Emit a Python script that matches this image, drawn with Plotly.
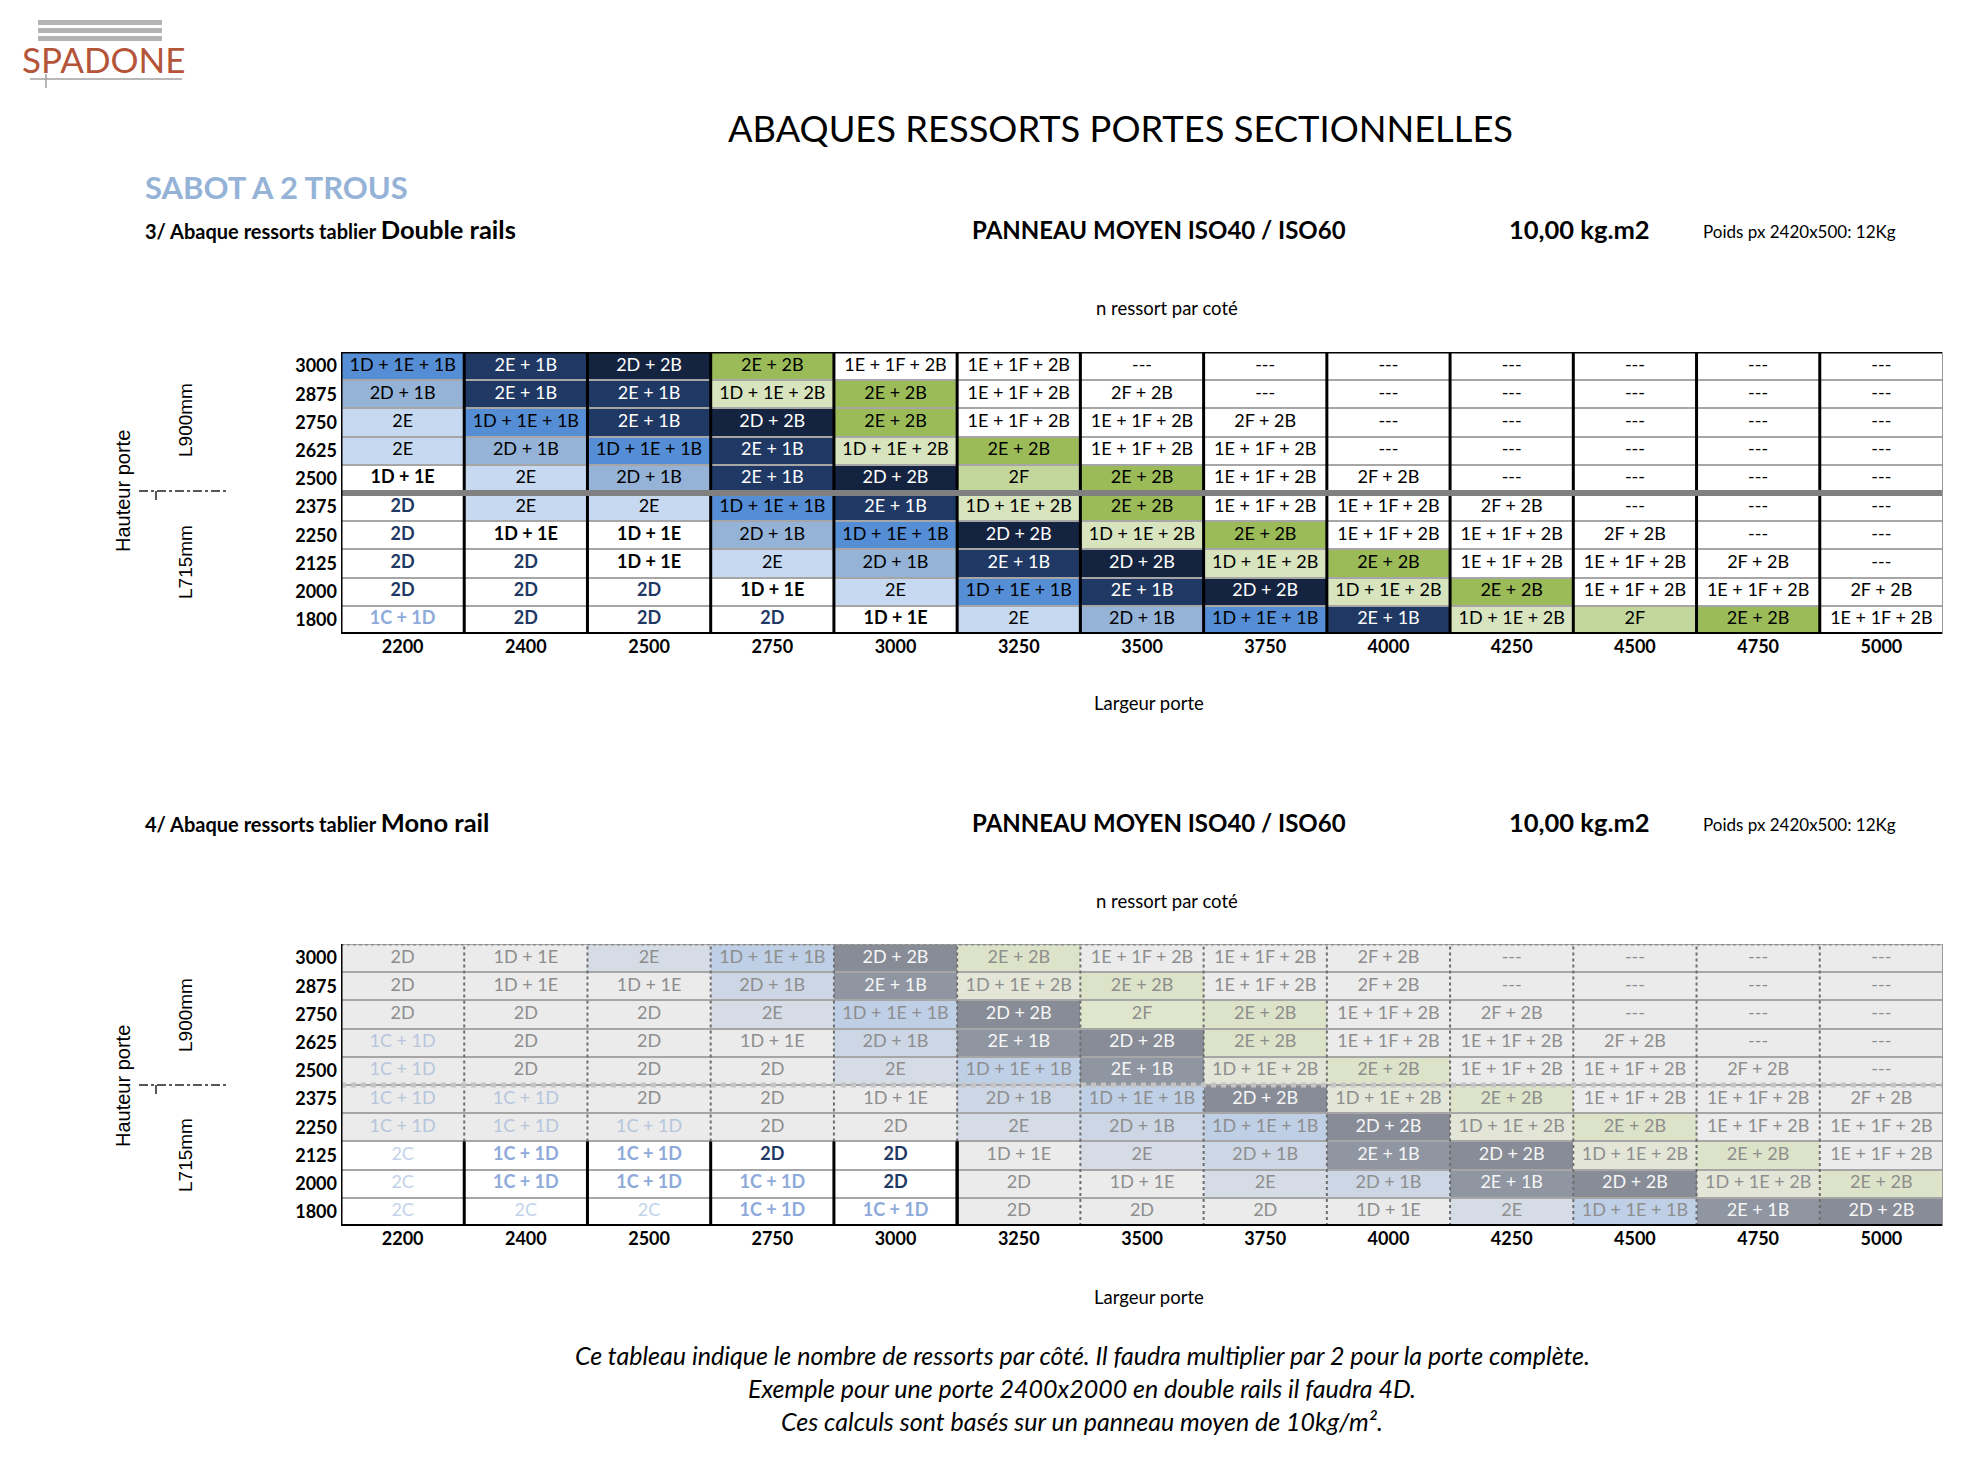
import plotly.graph_objects as go

# Données des abaques (lignes = hauteur porte, colonnes = largeur porte)
largeurs = ["2200", "2400", "2500", "2750", "3000", "3250", "3500",
            "3750", "4000", "4250", "4500", "4750", "5000"]
hauteurs = ["3000", "2875", "2750", "2625", "2500", "2375", "2250", "2125", "2000", "1800"]

double_rails = [
    ["1D + 1E + 1B", "2E + 1B", "2D + 2B", "2E + 2B", "1E + 1F + 2B", "1E + 1F + 2B", "---", "---", "---", "---", "---", "---", "---"],
    ["2D + 1B", "2E + 1B", "2E + 1B", "1D + 1E + 2B", "2E + 2B", "1E + 1F + 2B", "2F + 2B", "---", "---", "---", "---", "---", "---"],
    ["2E", "1D + 1E + 1B", "2E + 1B", "2D + 2B", "2E + 2B", "1E + 1F + 2B", "1E + 1F + 2B", "2F + 2B", "---", "---", "---", "---", "---"],
    ["2E", "2D + 1B", "1D + 1E + 1B", "2E + 1B", "1D + 1E + 2B", "2E + 2B", "1E + 1F + 2B", "1E + 1F + 2B", "---", "---", "---", "---", "---"],
    ["1D + 1E", "2E", "2D + 1B", "2E + 1B", "2D + 2B", "2F", "2E + 2B", "1E + 1F + 2B", "2F + 2B", "---", "---", "---", "---"],
    ["2D", "2E", "2E", "1D + 1E + 1B", "2E + 1B", "1D + 1E + 2B", "2E + 2B", "1E + 1F + 2B", "1E + 1F + 2B", "2F + 2B", "---", "---", "---"],
    ["2D", "1D + 1E", "1D + 1E", "2D + 1B", "1D + 1E + 1B", "2D + 2B", "1D + 1E + 2B", "2E + 2B", "1E + 1F + 2B", "1E + 1F + 2B", "2F + 2B", "---", "---"],
    ["2D", "2D", "1D + 1E", "2E", "2D + 1B", "2E + 1B", "2D + 2B", "1D + 1E + 2B", "2E + 2B", "1E + 1F + 2B", "1E + 1F + 2B", "2F + 2B", "---"],
    ["2D", "2D", "2D", "1D + 1E", "2E", "1D + 1E + 1B", "2E + 1B", "2D + 2B", "1D + 1E + 2B", "2E + 2B", "1E + 1F + 2B", "1E + 1F + 2B", "2F + 2B"],
    ["1C + 1D", "2D", "2D", "2D", "1D + 1E", "2E", "2D + 1B", "1D + 1E + 1B", "2E + 1B", "1D + 1E + 2B", "2F", "2E + 2B", "1E + 1F + 2B"],
]

mono_rail = [
    ["2D", "1D + 1E", "2E", "1D + 1E + 1B", "2D + 2B", "2E + 2B", "1E + 1F + 2B", "1E + 1F + 2B", "2F + 2B", "---", "---", "---", "---"],
    ["2D", "1D + 1E", "1D + 1E", "2D + 1B", "2E + 1B", "1D + 1E + 2B", "2E + 2B", "1E + 1F + 2B", "2F + 2B", "---", "---", "---", "---"],
    ["2D", "2D", "2D", "2E", "1D + 1E + 1B", "2D + 2B", "2F", "2E + 2B", "1E + 1F + 2B", "2F + 2B", "---", "---", "---"],
    ["1C + 1D", "2D", "2D", "1D + 1E", "2D + 1B", "2E + 1B", "2D + 2B", "2E + 2B", "1E + 1F + 2B", "1E + 1F + 2B", "2F + 2B", "---", "---"],
    ["1C + 1D", "2D", "2D", "2D", "2E", "1D + 1E + 1B", "2E + 1B", "1D + 1E + 2B", "2E + 2B", "1E + 1F + 2B", "1E + 1F + 2B", "2F + 2B", "---"],
    ["1C + 1D", "1C + 1D", "2D", "2D", "1D + 1E", "2D + 1B", "1D + 1E + 1B", "2D + 2B", "1D + 1E + 2B", "2E + 2B", "1E + 1F + 2B", "1E + 1F + 2B", "2F + 2B"],
    ["1C + 1D", "1C + 1D", "1C + 1D", "2D", "2D", "2E", "2D + 1B", "1D + 1E + 1B", "2D + 2B", "1D + 1E + 2B", "2E + 2B", "1E + 1F + 2B", "1E + 1F + 2B"],
    ["2C", "1C + 1D", "1C + 1D", "2D", "2D", "1D + 1E", "2E", "2D + 1B", "2E + 1B", "2D + 2B", "1D + 1E + 2B", "2E + 2B", "1E + 1F + 2B"],
    ["2C", "1C + 1D", "1C + 1D", "1C + 1D", "2D", "2D", "1D + 1E", "2E", "2D + 1B", "2E + 1B", "2D + 2B", "1D + 1E + 2B", "2E + 2B"],
    ["2C", "2C", "2C", "1C + 1D", "1C + 1D", "2D", "2D", "2D", "1D + 1E", "2E", "1D + 1E + 1B", "2E + 1B", "2D + 2B"],
]

# zone non grisée du tableau mono rail
mono_actifs_largeurs = ["2200", "2400", "2500", "2750", "3000"]
mono_actifs_hauteurs = ["2125", "2000", "1800"]
coupure = ("2500", "2375")  # séparation L900mm / L715mm

# couleurs des cases selon la combinaison de ressorts
couleurs = {
    "1D + 1E + 1B": "#558ed5", "2D + 1B": "#95b3d7", "2E": "#c6d9f1",
    "2E + 1B": "#1f3864", "2D + 2B": "#14233f", "2E + 2B": "#9bbb59",
    "1D + 1E + 2B": "#d7e4bd", "2F": "#c3d69b",
}
couleurs_grises = {
    "1D + 1E + 1B": "#bfcfe6", "2D + 1B": "#ccd6e5", "2E": "#d6dce5",
    "2E + 1B": "#8f95a1", "2D + 2B": "#878c97", "2E + 2B": "#dde3c8",
    "1D + 1E + 2B": "#e3e6d7", "2F": "#e0e6cc",
}
sombres = ["2E + 1B", "2D + 2B"]

W, H = 1982, 1462
OFF = 8  # marge du body de la page html
FW, FH = W - 2 * OFF, H - 2 * OFF
POLICE = "Lato, 'Open Sans', sans-serif"
ARIAL = "'Liberation Sans', Arial, sans-serif"


def px_x(x):
    return (x - OFF) / FW


def px_y(y):
    return 1 - (y - OFF) / FH


def style_case(label, grise):
    if grise:
        fond = couleurs_grises.get(label, "#ebebeb")
        if label in sombres:
            return fond, "#f6f6f6", "normal"
        if label == "1C + 1D":
            return fond, "#b6c6dc", "normal"
        return fond, "#8e8e8e", "normal"
    fond = couleurs.get(label, "#ffffff")
    if label in sombres:
        return fond, "#ffffff", "normal"
    if label == "2D":
        return fond, "#1f3864", "bold"
    if label == "1C + 1D":
        return fond, "#8eaadb", "bold"
    if label == "2C":
        return fond, "#c2d3ea", "normal"
    if label == "1D + 1E":
        return fond, "#000000", "bold"
    return fond, "#000000", "normal"


palette = []
fig = go.Figure()


def ajoute_tableau(tableau, xa, ya, mono):
    z, xs, ys, textes, tcol, tpoids = [], [], [], [], [], []
    for h, ligne in zip(hauteurs, tableau):
        zl = []
        for l, label in zip(largeurs, ligne):
            grise = mono and not (l in mono_actifs_largeurs and h in mono_actifs_hauteurs)
            fond, ct, pds = style_case(label, grise)
            if fond not in palette:
                palette.append(fond)
            zl.append(fond)
            xs.append(l)
            ys.append(h)
            textes.append(label)
            tcol.append(ct)
            tpoids.append(pds)
        z.append(zl)
    fig.add_trace(go.Heatmap(x=largeurs, y=hauteurs, z=z, xaxis=xa, yaxis=ya,
                             ygap=2, showscale=False, hoverinfo="skip"))
    fig.add_trace(go.Scatter(x=xs, y=ys, mode="text", text=textes, xaxis=xa, yaxis=ya,
                             textfont=dict(family=POLICE, size=18, color=tcol, weight=tpoids),
                             hoverinfo="skip", showlegend=False))


ajoute_tableau(double_rails, "x", "y", False)
ajoute_tableau(mono_rail, "x2", "y2", True)

# conversion des couleurs en indices pour une échelle discrète
n = len(palette)
echelle = [[i / (n - 1), c] for i, c in enumerate(palette)]
for tr in fig.data:
    if tr.type == "heatmap":
        tr.z = [[palette.index(c) for c in ligne] for ligne in tr.z]
        tr.zmin, tr.zmax = 0, n - 1
        tr.colorscale = echelle

ordre_y = hauteurs[::-1]
nx, ny = len(largeurs), len(hauteurs)
axe_x = dict(type="category", categoryorder="array", categoryarray=largeurs,
             range=[-0.5, nx - 0.5], showgrid=False, zeroline=False, showline=False,
             ticks="", tickfont=dict(family=POLICE, size=18, color="black", weight="bold"),
             fixedrange=True)
axe_y = dict(type="category", categoryorder="array", categoryarray=ordre_y,
             range=[-0.5, ny - 0.5], showgrid=False, zeroline=False, showline=False,
             ticks="", ticklabelstandoff=3,
             tickfont=dict(family=POLICE, size=18, color="black", weight="bold"),
             fixedrange=True)

x_dom = [px_x(341), px_x(1943)]
fig.update_layout(
    width=FW, height=FH, margin=dict(l=0, r=0, t=0, b=0),
    paper_bgcolor="white", plot_bgcolor="#a6a6a6", showlegend=False,
    xaxis=dict(axe_x, domain=x_dom, anchor="y"),
    yaxis=dict(axe_y, domain=[px_y(634), px_y(352)], anchor="x"),
    xaxis2=dict(axe_x, domain=x_dom, anchor="y2"),
    yaxis2=dict(axe_y, domain=[px_y(1226), px_y(944)], anchor="x2"),
)

shapes = []
y_coupure = (ordre_y.index(coupure[0]) + ordre_y.index(coupure[1])) / 2
i_act_x = max(largeurs.index(l) for l in mono_actifs_largeurs) + 0.5
i_act_y = max(ordre_y.index(h) for h in mono_actifs_hauteurs) + 0.5


def trait(xr, yr, x0, y0, x1, y1, couleur, w, dash="solid"):
    shapes.append(dict(type="line", xref=xr, yref=yr, x0=x0, y0=y0, x1=x1, y1=y1,
                       line=dict(color=couleur, width=w, dash=dash), layer="above"))


# tableau double rails
for i in range(1, nx):
    trait("x", "y", i - 0.5, -0.5, i - 0.5, ny - 0.5, "black", 3)
trait("x", "y", -0.5, y_coupure, nx - 0.5, y_coupure, "#808080", 6)
trait("x", "y", -0.5, ny - 0.5, nx - 0.5, ny - 0.5, "black", 3)
trait("x", "y", -0.5, -0.5, nx - 0.5, -0.5, "black", 4)
trait("x", "y", -0.5, -0.5, -0.5, ny - 0.5, "black", 3)
trait("x", "y", nx - 0.5, -0.5, nx - 0.5, ny - 0.5, "#9a9a9a", 2)

# tableau mono rail (zone grisée)
for i in range(1, nx):
    trait("x2", "y2", i - 0.5, i_act_y, i - 0.5, ny - 0.5, "#6e6e6e", 2, "dot")
    if i - 0.5 <= i_act_x:
        trait("x2", "y2", i - 0.5, -0.5, i - 0.5, i_act_y, "black", 3)
    else:
        trait("x2", "y2", i - 0.5, -0.5, i - 0.5, i_act_y, "#6e6e6e", 2, "dot")
trait("x2", "y2", i_act_x, -0.5, i_act_x, i_act_y, "black", 3)
trait("x2", "y2", -0.5, y_coupure, nx - 0.5, y_coupure, "#c4c4c4", 5, "dot")
trait("x2", "y2", -0.5, ny - 0.5, nx - 0.5, ny - 0.5, "#8a8a8a", 3, "dot")
trait("x2", "y2", -0.5, -0.5, nx - 0.5, -0.5, "black", 4)
trait("x2", "y2", -0.5, -0.5, -0.5, ny - 0.5, "black", 3)
trait("x2", "y2", nx - 0.5, -0.5, nx - 0.5, ny - 0.5, "#9a9a9a", 2)

# logo
for yy in (20, 28, 36):
    shapes.append(dict(type="rect", xref="paper", yref="paper", x0=px_x(38), x1=px_x(162),
                       y0=px_y(yy + 5), y1=px_y(yy), fillcolor="#b4b4b4", line=dict(width=0)))
shapes.append(dict(type="line", xref="paper", yref="paper", x0=px_x(30), x1=px_x(182),
                   y0=px_y(79), y1=px_y(79), line=dict(color="#a0a0a0", width=1.5)))
shapes.append(dict(type="line", xref="paper", yref="paper", x0=px_x(46), x1=px_x(46),
                   y0=px_y(74), y1=px_y(88), line=dict(color="#a0a0a0", width=1.5)))

# repères L900 / L715
for yy in (491, 1085):
    shapes.append(dict(type="line", xref="paper", yref="paper", x0=px_x(139), x1=px_x(228),
                       y0=px_y(yy), y1=px_y(yy), line=dict(color="#222", width=1.5, dash="dashdot")))
    shapes.append(dict(type="line", xref="paper", yref="paper", x0=px_x(156), x1=px_x(156),
                       y0=px_y(yy), y1=px_y(yy + 9), line=dict(color="#222", width=1.5)))

fig.update_layout(shapes=shapes)

annots = []


def texte(t, x, y, size, xanchor="left", color="black", angle=0, family=POLICE, **kw):
    annots.append(dict(text=t, x=px_x(x), y=px_y(y), xref="paper", yref="paper",
                       xanchor=xanchor, yanchor="middle", showarrow=False, textangle=angle,
                       font=dict(family=family, size=size, color=color, **kw)))


texte("SPADONE", 20, 59, 35, color="#b4553a")
texte("ABAQUES RESSORTS PORTES SECTIONNELLES", 1120, 128, 36.3, xanchor="center")
texte("<b>SABOT A 2 TROUS</b>", 143, 187, 31, color="#95b3d7")

for y_titre, nom, y_sous in ((229, "Double rails", 308), (822, "Mono rail", 901)):
    num = "3/" if nom == "Double rails" else "4/"
    texte(f"<b>{num} Abaque ressorts tablier <span style='font-size:25.5px'>{nom}</span></b>",
          143, y_titre, 20)
    texte("<b>PANNEAU MOYEN ISO40 / ISO60</b>", 970, y_titre, 24)
    texte("<b>10,00 kg.m2</b>", 1507, y_titre, 25.5)
    texte("Poids px 2420x500: 12Kg", 1701, y_titre + 2, 17)
    texte("n ressort par coté", 1167, y_sous, 18.5, xanchor="center")

texte("Largeur porte", 1149, 703, 18.5, xanchor="center")
texte("Largeur porte", 1149, 1297, 18.5, xanchor="center")

for yh, y900, y715 in ((491, 420, 562), (1086, 1015, 1155)):
    texte("Hauteur porte", 123, yh, 20, xanchor="center", angle=-90, family=ARIAL)
    texte("L900mm", 185, y900, 19, xanchor="center", angle=-90, family=ARIAL)
    texte("L715mm", 185, y715, 19, xanchor="center", angle=-90, family=ARIAL)

notes = [
    "Ce tableau indique le nombre de ressorts par côté. Il faudra multiplier par 2 pour la porte complète.",
    "Exemple pour une porte 2400x2000 en double rails il faudra 4D.",
    "Ces calculs sont basés sur un panneau moyen de 10kg/m².",
]
for k, ligne in enumerate(notes):
    texte(f"<i>{ligne}</i>", 1082, 1355 + 33 * k, 25, xanchor="center")

fig.update_layout(annotations=annots)

fig.write_html("out.html")
